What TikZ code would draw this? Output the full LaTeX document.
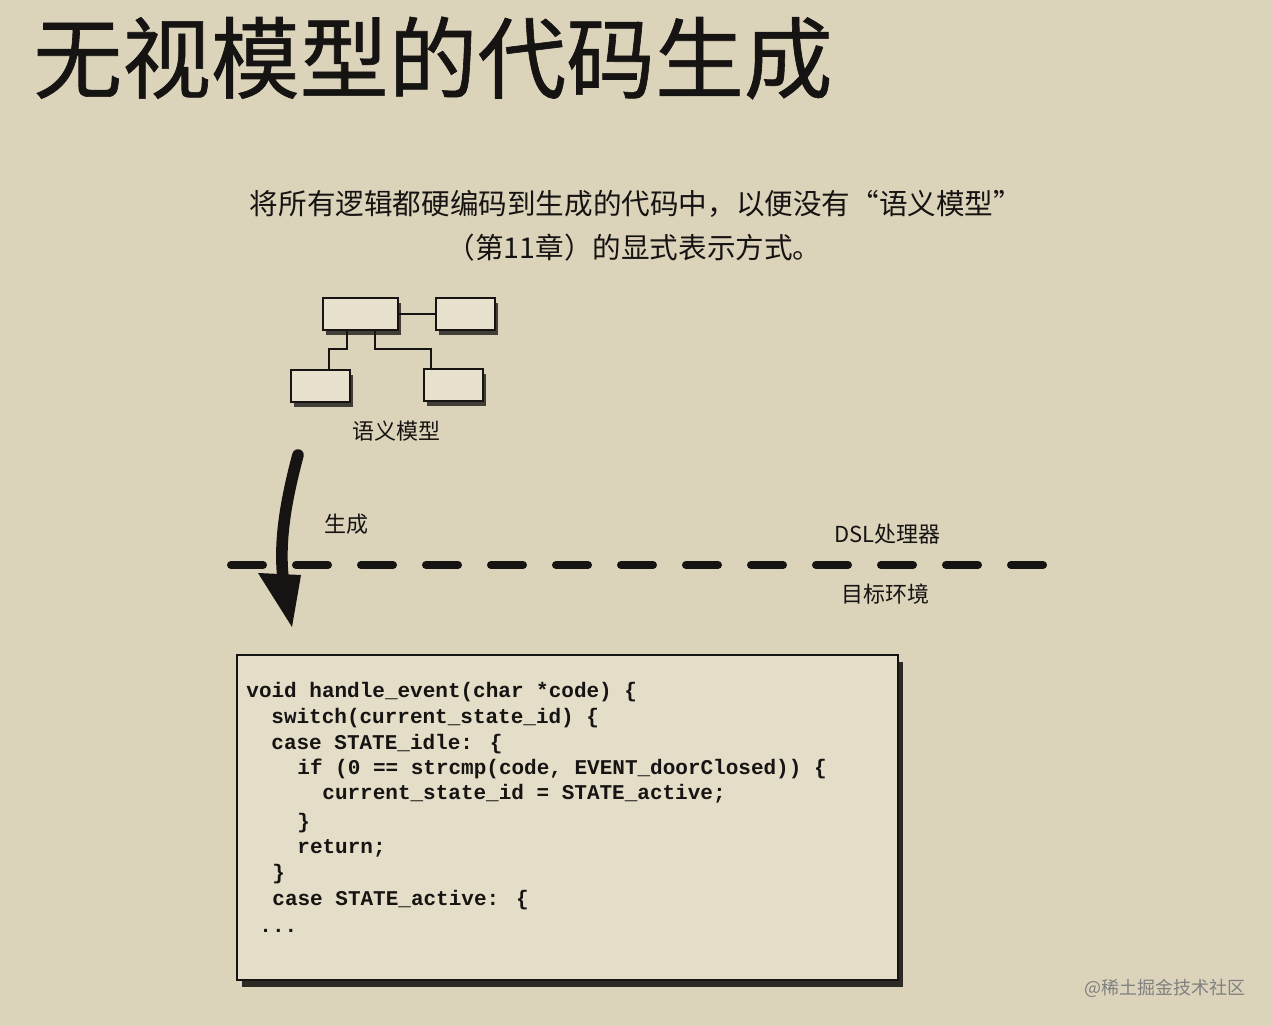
\documentclass[tikz,border=0pt]{standalone}
\usepackage{fontspec}
\newfontfamily\cjk{Noto Sans CJK SC}
\newfontfamily\cjktitle[FakeBold=0.7]{Noto Sans CJK SC}
\newfontfamily\codefont{Liberation Mono}
\usetikzlibrary{shadows,calc}
\definecolor{paper}{RGB}{220,211,187}
\definecolor{boxfill}{RGB}{232,225,205}
\definecolor{ink}{RGB}{22,20,18}
\tikzset{
  umlbox/.style={draw=ink, line width=1.3pt, fill=boxfill, minimum width=#1, minimum height=16pt, inner sep=0,
    drop shadow={shadow xshift=1.5pt, shadow yshift=-2.5pt, opacity=0.7, fill=black}},
  link/.style={draw=ink, line width=1pt},
  lbl/.style={font=\cjk\fontsize{11}{13}\selectfont, text=ink, inner sep=0},
  codeline/.style={font=\codefont\bfseries\fontsize{10.5}{13}\selectfont, text=ink, anchor=base west, inner sep=0},
}
\begin{document}
\begin{tikzpicture}[x=0.5pt,y=-0.5pt]
\fill[paper] (0,0) rectangle (1272,1026);
\useasboundingbox (0,0) rectangle (1272,1026);

% title
\node[anchor=west, inner sep=0, font=\cjktitle\fontsize{44.4}{50}\selectfont, text=ink] (title) at (33,58) {无视模型的代码生成};

% subtitle
\node[font=\cjk\fontsize{14.3}{18}\selectfont, text=ink, inner sep=0] (sub1) at (636,204) {将所有逻辑都硬编码到生成的代码中，以便没有“语义模型”};
\node[font=\cjk\fontsize{14.3}{18}\selectfont, text=ink, inner sep=0] (sub2) at (634,248) {（第11章）的显式表示方式。};

% semantic model
\node[umlbox=37.5pt] (tl) at (360.5,314) {};
\node[umlbox=29.5pt] (tr) at (465.5,314) {};
\node[umlbox=29.5pt] (bl) at (320.5,386) {};
\node[umlbox=29.5pt] (br) at (453.5,385) {};
\draw[link] (tl) -- (tr);
\draw[link] ($(tl.south west)+(25,0)$) -- ++(0,18) -| ($(bl.north west)+(39,0)$);
\draw[link] ($(tl.south west)+(53,0)$) -- ++(0,18) -| ($(br.north west)+(8,0)$);
\node[lbl] (model) at (396,431) {语义模型};

% dashed boundary
\coordinate (dl) at (227,565);
\coordinate (dr) at (1048,565);
\draw[ink, line width=4pt, line cap=round, dash pattern=on 16pt off 16.5pt] ($(dl)+(4,0)$) -- (dr);
\node[lbl, anchor=west] (gen) at (324,524) {生成};
\node[lbl, anchor=west] (dsl) at (834,534) {DSL处理器};
\node[lbl, anchor=west] (target) at (841,594) {目标环境};

% generation arrow
\coordinate (as) at (298,455);
\coordinate (am) at (283,578);
\coordinate (tip) at (292,627);
\draw[paper, line width=9pt] (280,552) -- (am);
\draw[ink, line width=5.8pt, line cap=round] (as) .. controls (286,500) and (279,540) .. (am);
\fill[ink] (258,573) -- (301,575) -- (tip) -- cycle;

% code box
\node[draw=ink, line width=1.1pt, fill=boxfill!70!paper, minimum width=330.5pt, minimum height=162.5pt, inner sep=0,
  drop shadow={shadow xshift=2.5pt, shadow yshift=-3.5pt, opacity=0.8, fill=black}] (code) at (567.5,817.5) {};
\node[codeline] (c1) at (246,697) {void handle\_event(char *code) \{};
\node[codeline] (c2) at (271,723) {switch(current\_state\_id) \{};
\node[codeline] (c3) at (271,749) {case STATE\_idle: \{};
\node[codeline] (c4) at (297,774) {if (0 == strcmp(code, EVENT\_doorClosed)) \{};
\node[codeline] (c5) at (322,799) {current\_state\_id = STATE\_active;};
\node[codeline] (c6) at (297,828) {\}};
\node[codeline] (c7) at (297,853) {return;};
\node[codeline] (c8) at (272,879) {\}};
\node[codeline] (c9) at (272,905) {case STATE\_active: \{};
\node[codeline] (c10) at (259,932) {...};

% watermark
\node[anchor=west, inner sep=0, font=\cjk\fontsize{9}{11}\selectfont, text=black!50] (wm) at (1084,988) {@稀土掘金技术社区};
\end{tikzpicture}
\end{document}
